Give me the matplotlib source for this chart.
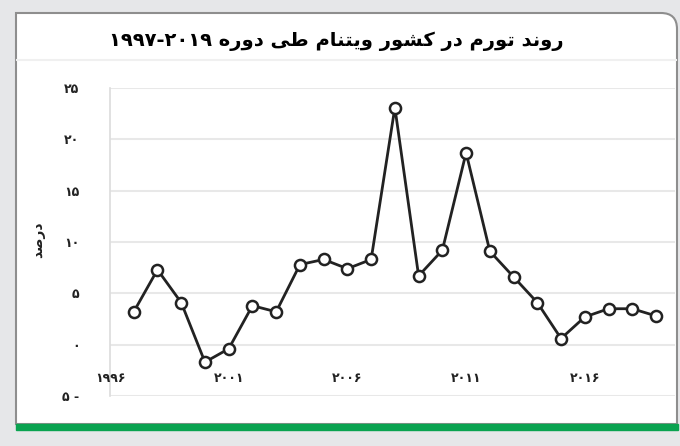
import matplotlib
matplotlib.use("Agg")
import matplotlib.pyplot as plt
from matplotlib.path import Path
from matplotlib.patches import PathPatch, Rectangle

# inflation in Vietnam, percent
years = list(range(1997, 2020))
inflation = [3.2, 7.3, 4.1, -1.7, -0.4, 3.8, 3.2, 7.8, 8.3, 7.4, 8.3, 23.1,
             6.7, 9.2, 18.7, 9.1, 6.6, 4.1, 0.6, 2.7, 3.5, 3.5, 2.8]

tick_years = [1996, 2001, 2006, 2011, 2016]
tick_labels = ["۱۹۹۶", "۲۰۰۱", "۲۰۰۶", "۲۰۱۱", "۲۰۱۶"]
y_ticks = [-5, 0, 5, 10, 15, 20, 25]
y_labels = ["۵ -", "۰", "۵", "۱۰", "۱۵", "۲۰", "۲۵"]

title_text = "روند تورم در کشور ویتنام طی دوره ۱۹۹۷-۲۰۱۹"
ylabel_text = "درصد"

# matplotlib does no arabic shaping, so do it by hand for the letters we need
FORMS = {
    'ا': ('\uFE8D', '\uFE8E'),
    'د': ('\uFEA9', '\uFEAA'),
    'ر': ('\uFEAD', '\uFEAE'),
    'و': ('\uFEED', '\uFEEE'),
    'ه': ('\uFEE9', '\uFEEA', '\uFEEB', '\uFEEC'),
    'ت': ('\uFE95', '\uFE96', '\uFE97', '\uFE98'),
    'ن': ('\uFEE5', '\uFEE6', '\uFEE7', '\uFEE8'),
    'م': ('\uFEE1', '\uFEE2', '\uFEE3', '\uFEE4'),
    'ک': ('\uFED9', '\uFEDA', '\uFEDB', '\uFEDC'),
    'ش': ('\uFEB5', '\uFEB6', '\uFEB7', '\uFEB8'),
    'ی': ('\uFEEF', '\uFEF0', '\uFEF3', '\uFEF4'),
    'ط': ('\uFEC1', '\uFEC2', '\uFEC3', '\uFEC4'),
    'ص': ('\uFEB9', '\uFEBA', '\uFEBB', '\uFEBC'),
}


def shape_word(word):
    if not any(ch in FORMS for ch in word):
        return word
    out = []
    for i, ch in enumerate(word):
        if ch not in FORMS:
            out.append(ch)
            continue
        prev = word[i - 1] if i > 0 else None
        nxt = word[i + 1] if i < len(word) - 1 else None
        join_prev = prev in FORMS and len(FORMS[prev]) == 4
        join_next = nxt in FORMS and len(FORMS[ch]) == 4
        if join_prev and join_next:
            out.append(FORMS[ch][3])
        elif join_prev:
            out.append(FORMS[ch][1])
        elif join_next:
            out.append(FORMS[ch][2])
        else:
            out.append(FORMS[ch][0])
    return "".join(out)[::-1]


def rtl(text):
    return " ".join(shape_word(w) for w in text.split(" ")[::-1])


fig = plt.figure(figsize=(6.8, 4.46), dpi=100)
fig.patch.set_facecolor("#e6e7e9")

# white card with a rounded top right corner
W, H = 680, 446
x0, x1, yt, yb, r = 16, 677, 13, 424, 16
verts = [(x0, yb), (x0, yt), (x1 - r, yt), (x1, yt), (x1, yt + r), (x1, yb), (x0, yb)]
codes = [Path.MOVETO, Path.LINETO, Path.LINETO, Path.CURVE3, Path.CURVE3, Path.LINETO, Path.CLOSEPOLY]
verts = [(vx / W, 1 - vy / H) for vx, vy in verts]
fig.patches.append(PathPatch(Path(verts, codes), transform=fig.transFigure,
                             facecolor="white", edgecolor="#8e8e8e", lw=1.5, zorder=-3))
fig.patches.append(Rectangle((x0 / W, 1 - 430 / H), (678 - x0) / W, 6 / H,
                             transform=fig.transFigure, color="#0aa350", zorder=-2))
fig.add_artist(plt.Line2D([(x0 + 1) / W, (x1 - 1) / W], [1 - 60 / H] * 2,
                          color="#f0f0f0", lw=1.5, zorder=-2))

fig.text(336 / W, 1 - 41 / H, rtl(title_text), ha="center", va="center",
         fontsize=14, fontweight="bold", family="DejaVu Sans")

ax = fig.add_axes([110 / W, 1 - 396 / H, 565 / W, 308 / H])
ax.set_facecolor("none")
ax.plot(years, inflation, color="#222222", lw=2, marker="o", markersize=8,
        markerfacecolor="white", markeredgecolor="#222222", markeredgewidth=1.8,
        zorder=3, clip_on=False)

ax.set_xlim(1996, 2019.8)
ax.set_ylim(-5, 25)
ax.set_yticks(y_ticks)
ax.set_yticklabels(y_labels, fontsize=9, fontweight="bold", color="#222222")
ax.tick_params(axis="y", length=0, pad=22)
ax.set_xticks([])
for yr, lab in zip(tick_years, tick_labels):
    ax.text(yr, -3.3, lab, ha="center", va="center", fontsize=9,
            fontweight="bold", color="#222222")
ax.grid(axis="y", color="#e8e8e8", lw=1.5)
ax.set_axisbelow(True)
for side in ["top", "right", "bottom"]:
    ax.spines[side].set_visible(False)
ax.spines["left"].set_color("#dcdcdc")
ax.spines["left"].set_linewidth(1.2)

fig.text(38 / W, 1 - 240 / H, rtl(ylabel_text), rotation=90, ha="center",
         va="center", fontsize=10, fontweight="bold", color="#222222")

fig.savefig("out.png", dpi=100, facecolor=fig.get_facecolor())
